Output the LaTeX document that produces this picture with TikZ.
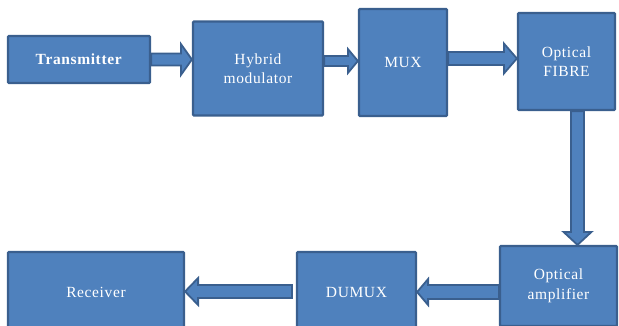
\documentclass[tikz,border=0pt]{standalone}
\usepackage{fontspec}
\setmainfont[LetterSpace=4]{Liberation Serif}
\usetikzlibrary{calc}
\definecolor{boxfill}{HTML}{4F81BD}
\definecolor{boxline}{HTML}{3A5F8E}
\newcommand\harr[5]{%
  \draw[barrow] ($(#1)+(0,#3)$) -- ($(#2)+({-(#5)},#3)$) -- ($(#2)+({-(#5)},#4)$) -- (#2)
    -- ($(#2)+({-(#5)},{-(#4)})$) -- ($(#2)+({-(#5)},{-(#3)})$) -- ($(#1)+(0,{-(#3)})$) -- cycle;}
\newcommand\varr[5]{%
  \draw[barrow] ($(#1)+(#3,0)$) -- ($(#2)+(#3,{-(#5)})$) -- ($(#2)+(#4,{-(#5)})$) -- (#2)
    -- ($(#2)+({-(#4)},{-(#5)})$) -- ($(#2)+({-(#3)},{-(#5)})$) -- ($(#1)+({-(#3)},0)$) -- cycle;}
\begin{document}
\begin{tikzpicture}[x=1pt,y=-1pt,
  blk/.style={draw=boxline, fill=boxfill, line width=2.2pt, rounded corners=1pt,
    text=white, font=\fontsize{15.5}{19.5}\selectfont, align=center, inner sep=0pt},
  barrow/.style={draw=boxline, fill=boxfill, line width=1.8pt, line join=miter}]
\useasboundingbox (0,0) rectangle (619,325);
\clip (0,0) rectangle (619,325);

\node[blk, minimum width=142pt, minimum height=47pt] (tx) at (79,59.5) {\textbf{Transmitter}};
\node[blk, minimum width=130pt, minimum height=94pt] (hyb) at (258,68.5) {Hybrid\\modulator};
\node[blk, minimum width=88pt, minimum height=107pt] (mux) at (403,62.5) {MUX};
\node[blk, minimum width=97pt, minimum height=97pt] (fib) at (566.5,61.5) {Optical\\FIBRE};
\node[blk, minimum width=117pt, minimum height=80pt] (amp) at (558.5,286) {Optical\\amplifier};
\node[blk, minimum width=119pt, minimum height=80pt] (dmx) at (356.5,292) {DUMUX};
\node[blk, minimum width=176pt, minimum height=80pt] (rx) at (96,292) {Receiver};

\coordinate (a1s) at (tx.east);
\coordinate (a1t) at (a1s -| hyb.west);
\coordinate (a2s) at ($(hyb.east)+(0,-7.5)$);
\coordinate (a2t) at (a2s -| mux.west);
\coordinate (a3s) at ($(mux.east)+(0,-4)$);
\coordinate (a3t) at (a3s -| fib.west);
\coordinate (a4s) at ($(fib.south)+(11,0)$);
\coordinate (a4t) at (a4s |- amp.north);
\coordinate (a5s) at ($(amp.west)+(0,6)$);
\coordinate (a5t) at (a5s -| dmx.east);
\coordinate (a6s) at ($(dmx.west)+(-4,-0.5)$);
\coordinate (a6t) at (a6s -| rx.east);

\harr{a1s}{a1t}{6}{15.5}{11}
\harr{a2s}{a2t}{5}{12}{10}
\harr{a3s}{a3t}{6.5}{15}{13}
\varr{a4s}{a4t}{6.5}{14}{13}
\harr{a5s}{a5t}{7}{13}{-11}
\harr{a6s}{a6t}{6.5}{13.5}{-13}
\end{tikzpicture}
\end{document}
